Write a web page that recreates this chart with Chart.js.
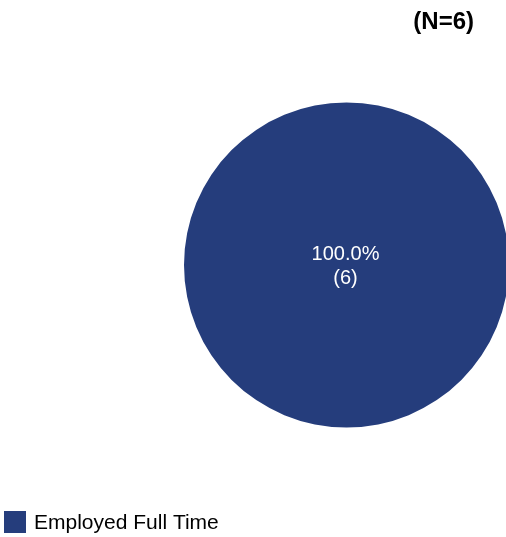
<!DOCTYPE html>
<html>
<head>
<meta charset="utf-8">
<script src="https://cdn.jsdelivr.net/npm/chart.js@4"></script>
<style>
html,body{margin:0;padding:0;background:#fff;}
#wrap{position:relative;width:506px;height:537px;}
</style>
</head>
<body>
<div id="wrap"><canvas id="c" width="506" height="537"></canvas></div>
<script>
const categories = ["Employed Full Time"];
const counts = [6];
const colors = ["#253D7C"];
const titleText = "(N=6)";

const FONT = "'Liberation Sans', Arial, sans-serif";

const overlay = {
  id: 'overlay',
  afterDraw(chart) {
    const ctx = chart.ctx;
    ctx.save();
    // title
    ctx.fillStyle = '#000';
    ctx.font = 'bold 24px ' + FONT;
    ctx.textAlign = 'right';
    ctx.textBaseline = 'middle';
    ctx.fillText(titleText, 474, 22);

    // slice labels
    const total = counts.reduce((a, b) => a + b, 0);
    const meta = chart.getDatasetMeta(0);
    meta.data.forEach((arc, i) => {
      const p = arc.tooltipPosition();
      let x = p.x, y = p.y;
      if (counts[i] === total) { x = arc.x; y = arc.y; }
      ctx.fillStyle = '#fff';
      ctx.font = '20px ' + FONT;
      ctx.textAlign = 'center';
      ctx.textBaseline = 'middle';
      ctx.fillText((counts[i] / total * 100).toFixed(1) + '%', x - 1, y - 11);
      ctx.fillText('(' + counts[i] + ')', x - 1, y + 13);
    });

    // legend
    categories.forEach((c, i) => {
      ctx.fillStyle = colors[i];
      ctx.fillRect(4, 511, 22, 22);
      ctx.fillStyle = '#000';
      ctx.font = '21px ' + FONT;
      ctx.textAlign = 'left';
      ctx.textBaseline = 'middle';
      ctx.fillText(c, 34, 523);
    });
    ctx.restore();
  }
};

new Chart(document.getElementById('c'), {
  type: 'pie',
  data: {
    labels: categories,
    datasets: [{
      data: counts,
      backgroundColor: colors,
      borderWidth: 0,
      hoverOffset: 0,
      offset: 0,
      radius: 162.5
    }]
  },
  options: {
    responsive: false,
    animation: false,
    layout: { padding: { left: 187, right: 0, top: 102, bottom: 109 } },
    plugins: { legend: { display: false }, tooltip: { enabled: false }, title: { display: false } }
  },
  plugins: [overlay]
});
</script>
</body>
</html>
